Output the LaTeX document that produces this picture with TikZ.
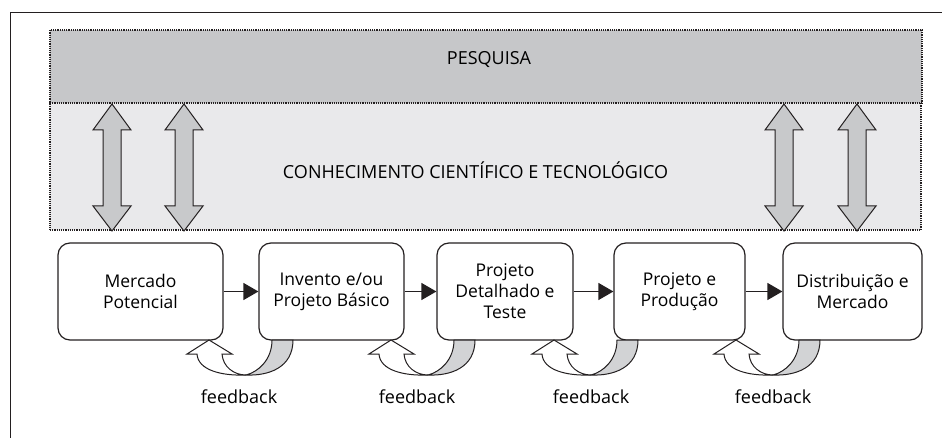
\documentclass[tikz,border=0pt]{standalone}
\usepackage{fontspec}
\setmainfont{Open Sans}
\usetikzlibrary{arrows.meta}

\definecolor{pesqgray}{HTML}{C6C7C9}
\definecolor{conhgray}{HTML}{E9E9EB}
\definecolor{arrowgray}{HTML}{C8C9CB}
\definecolor{backgray}{HTML}{D2D3D5}
\definecolor{inkline}{HTML}{231F20}

\tikzset{
  band/.style={draw=inkline, line width=1.2pt, dash pattern=on 1.2pt off 1pt, inner sep=0pt},
  stage/.style={draw=inkline, line width=1.2pt, rounded corners=12pt, align=center,
    minimum height=97pt, inner sep=2pt, font=\fontsize{17.5}{21}\selectfont},
  flow/.style={draw=inkline, line width=1.2pt, -{Triangle[length=15pt,width=17pt]}},
  bigarrow/.style={draw=inkline, fill=arrowgray, line width=1pt, line join=miter},
  loopline/.style={draw=inkline, line width=1pt},
  plain/.style={font=\fontsize{18}{21}\selectfont, inner sep=0pt}
}

\begin{document}
\begin{tikzpicture}[x=1pt, y=-1pt]
  \useasboundingbox (0,0) rectangle (942,438);
  % frame
  \draw[inkline, line width=1pt] (10,438) -- (10,13) -- (942,13);

  % research and knowledge bands
  \node[band, fill=pesqgray, minimum width=872pt, minimum height=73pt] (pesq) at (486,66.5) {};
  \node[band, fill=conhgray, minimum width=871pt, minimum height=127pt] (conh) at (485.5,166.5) {};
  \node[plain] (pesqtxt) at (489,60) {PESQUISA};
  \node[plain] (conhtxt) at (475.5,170) {CONHECIMENTO CIENTÍFICO E TECNOLÓGICO};

  % double arrows
  \foreach \x in {112,184,784,857}
    \draw[bigarrow] (\x,104) -- (\x+19,130) -- (\x+9,130) -- (\x+9,206) -- (\x+19,206)
      -- (\x,231) -- (\x-19,206) -- (\x-9,206) -- (\x-9,130) -- (\x-19,130) -- cycle;

  % stages
  \node[stage, minimum width=165pt] (s1) at (140.5,291.5) {Mercado\\Potencial};
  \node[stage, minimum width=145pt] (s2) at (331.5,291.5) {Invento e/ou\\Projeto Básico};
  \node[stage, minimum width=136pt] (s3) at (505,291.5) {Projeto\\Detalhado e\\Teste};
  \node[stage, minimum width=131pt] (s4) at (679.5,291.5) {Projeto e\\Produção};
  \node[stage, minimum width=139pt] (s5) at (852.5,291.5) {Distribuição e\\Mercado};

  \draw[flow] (s1) -- (s2);
  \draw[flow] (s2) -- (s3);
  \draw[flow] (s3) -- (s4);
  \draw[flow] (s4) -- (s5);

  % feedback loops
  \foreach \p/\l [count=\i] in {246/239, 428/417, 591/591, 773/773} {
    \draw[loopline, fill=backgray] (\p+26,340) .. controls (\p+26,360) and (\p+12,372) .. (\p,375)
      .. controls (\p+22,376) and (\p+47,368) .. (\p+47,340) -- cycle;
    \draw[loopline, fill=white, line join=miter] (\p-37,340) -- (\p-14,354) -- (\p-24,354)
      .. controls (\p-23,367) and (\p-12,375) .. (\p,375)
      .. controls (\p-25,376) and (\p-48,370) .. (\p-49,354) -- (\p-59,354) -- cycle;
    \node[plain] (fb\i) at (\l,396.5) {feedback};
  }
\end{tikzpicture}
\end{document}
